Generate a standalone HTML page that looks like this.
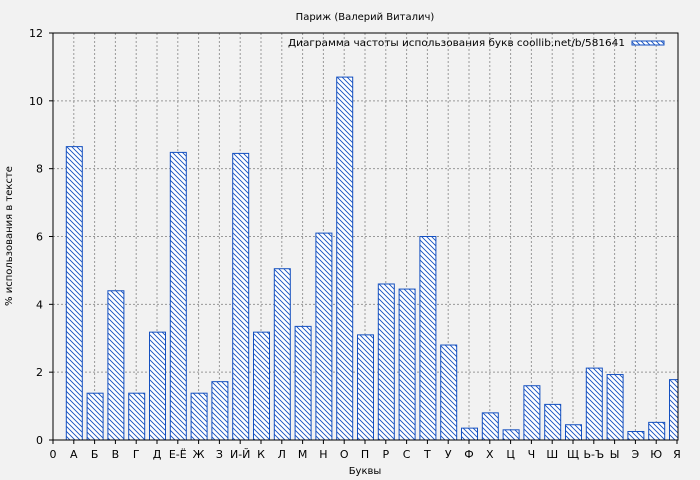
<!DOCTYPE html>
<html><head><meta charset="utf-8"><style>
body{margin:0;background:#f2f2f2;}
svg{display:block;font-family:"DejaVu Sans","Liberation Sans",sans-serif;}
</style></head><body>
<svg width="700" height="480" xmlns="http://www.w3.org/2000/svg">
<defs>
<pattern id="h" patternUnits="userSpaceOnUse" width="5" height="5">
<rect width="5" height="5" fill="#fff"/>
<path d="M-1,-1 L6,6 M-1,4 L1,6 M4,-1 L6,1" stroke="#1450c0" stroke-width="0.9"/>
</pattern>
<clipPath id="c"><rect x="53" y="33" width="625" height="407"/></clipPath>
</defs>
<rect width="700" height="480" fill="#f2f2f2"/>
<text x="365" y="20" font-size="10" text-anchor="middle">Париж (Валерий Виталич)</text>
<g id="grid" stroke="#999" stroke-width="1" stroke-dasharray="2,2"></g>
<g id="bars" clip-path="url(#c)"></g>
<rect x="53" y="33" width="625" height="407" fill="none" stroke="#000" stroke-width="1"/>
<g id="ax" font-size="11"></g>
<text x="288" y="46" font-size="10" textLength="337" lengthAdjust="spacingAndGlyphs">Диаграмма частоты использования букв coollib.net/b/581641</text>
<rect x="632" y="41" width="32" height="4" fill="url(#h)" stroke="#1450c0" stroke-width="1"/>
<text x="365" y="474" font-size="10" text-anchor="middle">Буквы</text>
<text transform="translate(12,236) rotate(-90)" font-size="10" text-anchor="middle">% использования в тексте</text>
<script>
var labs=["0","А","Б","В","Г","Д","Е-Ё","Ж","З","И-Й","К","Л","М","Н","О","П","Р","С","Т","У","Ф","Х","Ц","Ч","Ш","Щ","Ь-Ъ","Ы","Э","Ю","Я"];
var v=[null,8.65,1.38,4.4,1.38,3.18,8.48,1.38,1.72,8.45,3.18,5.05,3.35,6.1,10.7,3.1,4.6,4.45,6.0,2.8,0.35,0.8,0.3,1.6,1.05,0.45,2.12,1.93,0.25,0.52,1.78];
var ns="http://www.w3.org/2000/svg";
function el(t,a,p,tx){var e=document.createElementNS(ns,t);for(var k in a)e.setAttribute(k,a[k]);if(tx)e.textContent=tx;document.getElementById(p).appendChild(e);}
function X(i){return 53+i*20.8;}
function Y(y){return 440-y*407/12;}
for(var i=1;i<30;i++)el("line",{x1:X(i),y1:33,x2:X(i),y2:440},"grid");
for(var j=2;j<12;j+=2)el("line",{x1:53,y1:Y(j),x2:678,y2:Y(j)},"grid");
for(var i=1;i<=30;i++){var x=X(i)+0.5;el("rect",{x:x-8,y:Y(v[i]),width:16,height:440-Y(v[i]),fill:"url(#h)",stroke:"#1450c0","stroke-width":1},"bars");}
for(var i=0;i<=30;i++){el("line",{x1:X(i),y1:440,x2:X(i),y2:444,stroke:"#000"},"ax");el("text",{x:X(i),y:458,"text-anchor":"middle"},"ax",labs[i]);}
for(var j=0;j<=12;j+=2){el("line",{x1:49,y1:Y(j),x2:53,y2:Y(j),stroke:"#000"},"ax");el("text",{x:43,y:Y(j)+4,"text-anchor":"end"},"ax",String(j));}
</script>
</svg>
</body></html>
